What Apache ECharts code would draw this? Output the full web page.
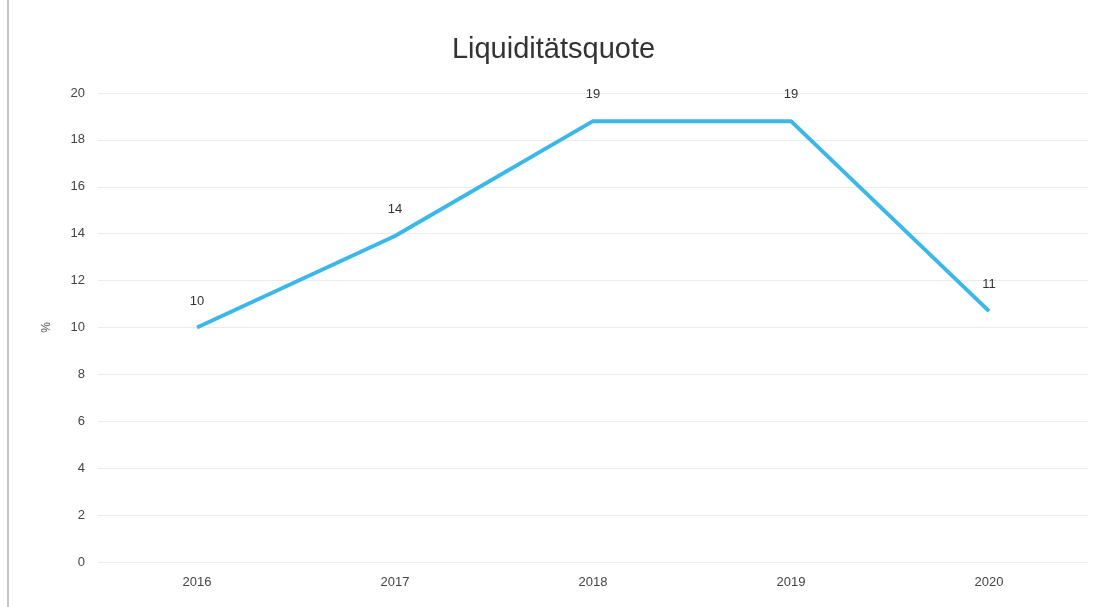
<!DOCTYPE html>
<html>
<head>
<meta charset="utf-8">
<script src="https://cdn.jsdelivr.net/npm/echarts@6/dist/echarts.min.js"></script>
<style>
html,body{margin:0;padding:0;background:#fff;}
#chart{width:1107px;height:607px;}
</style>
</head>
<body>
<div id="chart"></div>
<script>
const titleText = 'Liquiditätsquote';
const categories = ['2016', '2017', '2018', '2019', '2020'];
const values = [10, 13.9, 18.8, 18.8, 10.7];
const yAxisName = '%';

const chart = echarts.init(document.getElementById('chart'), null, {renderer: 'canvas'});
chart.setOption({
  backgroundColor: '#ffffff',
  animation: false,
  title: {
    text: titleText,
    left: 'center',
    top: 30,
    textStyle: {fontFamily: 'Liberation Sans, Arial, sans-serif', fontSize: 29, fontWeight: 'normal', color: '#333'}
  },
  grid: {left: 98, right: 19, top: 93, bottom: 45},
  xAxis: {
    type: 'category',
    data: categories,
    boundaryGap: true,
    axisLine: {show: false},
    axisTick: {show: false},
    axisLabel: {color: '#444', fontSize: 13, fontFamily: 'Liberation Sans, Arial, sans-serif', margin: 14}
  },
  yAxis: {
    type: 'value',
    min: 0,
    max: 20,
    interval: 2,
    name: yAxisName,
    nameLocation: 'middle',
    nameGap: 45,
    nameRotate: 90,
    nameTextStyle: {color: '#555', fontSize: 12, fontFamily: 'Liberation Sans, Arial, sans-serif'},
    axisLine: {show: false},
    axisTick: {show: false},
    axisLabel: {color: '#444', fontSize: 13, fontFamily: 'Liberation Sans, Arial, sans-serif', margin: 13},
    splitLine: {lineStyle: {color: '#ebebeb', width: 1}}
  },
  series: [{
    type: 'line',
    data: values,
    showSymbol: true,
    symbol: 'circle',
    symbolSize: 0.1,
    lineStyle: {color: '#3cb8e6', width: 4},
    itemStyle: {color: '#3cb8e6'},
    label: {
      show: true,
      position: 'top',
      distance: 20,
      color: '#333',
      fontSize: 13,
      fontFamily: 'Liberation Sans, Arial, sans-serif',
      formatter: p => Math.round(p.value)
    }
  }],
  graphic: [
    {type: 'line', shape: {x1: 8, y1: 0, x2: 8, y2: 607}, style: {stroke: '#b0b0b0', lineWidth: 1.5}, silent: true}
  ]
});
</script>
</body>
</html>
